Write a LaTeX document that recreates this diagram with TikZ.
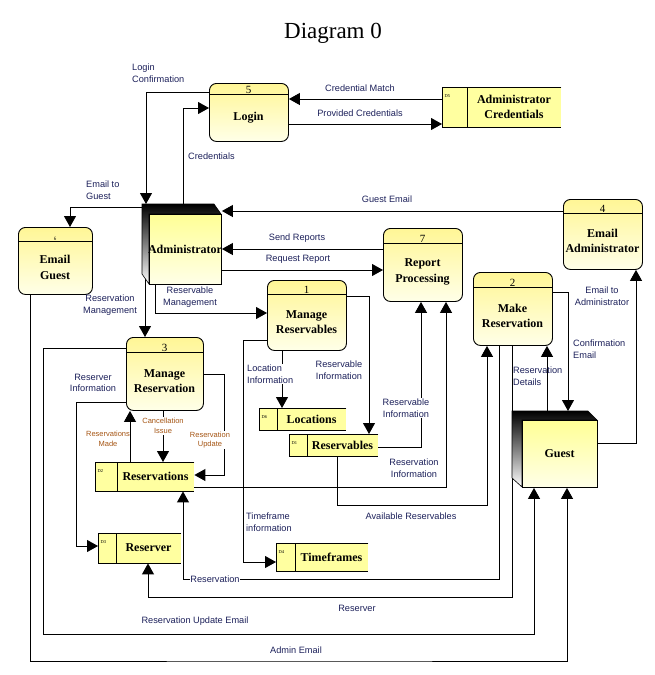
\documentclass[tikz,border=0pt]{standalone}
\usepackage{fontspec}
\setmainfont{Liberation Serif}
\setsansfont{Liberation Sans}
\usetikzlibrary{arrows.meta}

\definecolor{procTop}{RGB}{255,246,150}
\definecolor{procBot}{RGB}{255,255,232}
\definecolor{storeFill}{RGB}{255,255,160}
\definecolor{entTop}{RGB}{255,255,150}
\definecolor{entBot}{RGB}{255,255,232}
\definecolor{labcol}{RGB}{28,32,90}
\definecolor{slabcol}{RGB}{165,85,20}

\pgfdeclarelayer{wires}
\pgfsetlayers{wires,main}

\tikzset{
  edge/.style={draw, line width=0.9pt},
  flow/.style={edge, -{Triangle[length=11pt,width=12pt]}},
  proc/.style={draw, line width=0.9pt, rounded corners=7pt, top color=procTop, bottom color=procBot, inner sep=0pt},
  ent/.style={draw, line width=0.9pt, top color=entTop, bottom color=entBot, inner sep=0pt},
  store/.style={fill=storeFill, inner sep=0pt},
  ptitle/.style={font=\bfseries\fontsize{12}{15.5}\selectfont, align=center, inner sep=0pt},
  pnum/.style={font=\fontsize{11}{11}\selectfont, inner sep=0.5pt},
  sid/.style={font=\fontsize{4.5}{4.5}\selectfont, inner sep=0pt},
  lab/.style={font=\sffamily\fontsize{9.2}{11.5}\selectfont, text=labcol, align=center, inner sep=1pt},
  slab/.style={font=\sffamily\fontsize{7.5}{9.8}\selectfont, text=slabcol, align=center, inner sep=1pt},
  blank/.style={fill=white},
}

% process: name, x1, y1, x2, y2, header line y, number, title
\newcommand\procbox[8]{%
  \node[proc, anchor=north west, minimum width={(#4-#2)*1pt}, minimum height={(#5-#3)*1pt}] (#1) at (#2,#3) {};
  \draw[edge] (#1.west |- 0,#6) -- (#1.east |- 0,#6);
  \node[pnum, anchor=south] (#1-n) at ({(#2+#4)/2},#6+0.5) {#7};
  \node[ptitle] (#1-t) at ({(#2+#4)/2},{(#6+#5)/2}) {#8};
}

% data store: name, x1, y1, x2, y2, divider x, id, title
\newcommand\dstore[8]{%
  \node[store, anchor=north west, minimum width={(#4-#2)*1pt}, minimum height={(#5-#3)*1pt}] (#1) at (#2,#3) {};
  \draw[edge] (#1.north east) -- (#1.north west) -- (#1.south west) -- (#1.south east);
  \draw[edge] (#1.north -| #6,0) -- (#1.south -| #6,0);
  \node[sid, anchor=west] (#1-id) at (#2+2.5,#3+9) {#7};
  \node[ptitle] (#1-t) at ({(#6+#4)/2},{(#3+#5)/2}) {#8};
}

\begin{document}
\begin{tikzpicture}[x=1pt, y=-1pt]
\useasboundingbox (0,0) rectangle (654,675);

\node[font=\fontsize{23}{23}\selectfont] (title) at (333,33) {Diagram 0};

% processes
\procbox{login}{209}{83}{288}{141}{94}{5}{Login}
\procbox{emailg}{18}{227}{92}{294}{241}{\fontsize{5}{5}\selectfont 6}{Email\\Guest}
\procbox{mres}{267}{280}{346}{350}{294}{1}{Manage\\Reservables}
\procbox{rep}{383}{228}{462}{301}{243}{7}{Report\\Processing}
\procbox{emaila}{563}{199}{642}{269}{213}{4}{Email\\Administrator}
\procbox{make}{473}{272}{552}{345}{287}{2}{Make\\Reservation}
\procbox{mresv}{126}{337}{203}{410}{352}{3}{Manage\\Reservation}

% data stores
\dstore{acred}{442}{87}{561}{127}{467}{D5}{Administrator\\Credentials}
\dstore{loc}{259}{408}{346}{430}{277}{D6}{Locations}
\dstore{rsvb}{289}{434}{378}{456}{307}{D1}{Reservables}
\dstore{resv}{95}{462}{194}{491}{117}{D2}{Reservations}
\dstore{reserver}{98}{533}{181}{563}{116}{D3}{Reserver}
\dstore{tf}{276}{543}{368}{571}{295}{D4}{Timeframes}

% external entities
\shadedraw[top color=black, bottom color=white, line width=0.6pt]
  (142,204) -- (214,204) -- (221,214) -- (149,214) -- (149,284) -- (142,274) -- cycle;
\node[ent, anchor=north west, minimum width=72pt, minimum height=70pt] (admin) at (149,214) {};
\node[inner sep=0pt, anchor=north west, minimum width=72pt, minimum height=70pt] (adminbk) at (142,204) {};
\node[ptitle] (admin-t) at (185,249) {Administrator};

\shadedraw[top color=black, bottom color=white, line width=0.6pt]
  (512,411) -- (588,411) -- (597,420) -- (522,420) -- (522,487) -- (512,478) -- cycle;
\node[ent, anchor=north west, minimum width=75pt, minimum height=67pt] (guest) at (522,420) {};
\node[inner sep=0pt, anchor=north west, minimum width=76pt, minimum height=67pt] (guestbk) at (512,411) {};
\node[ptitle] (guest-t) at (559.5,453.5) {Guest};

% data flows
\begin{pgfonlayer}{wires}
\draw[flow] (login.west |- 0,92) -| (adminbk.north -| 146,0);
\draw[flow] (adminbk.north -| 183,0) |- (login.west |- 0,108);
\draw[flow] (acred.west |- 0,99) -- (login.east |- 0,99);
\draw[flow] (login.east |- 0,124) -- (acred.west |- 0,124);
\draw[flow] (emaila.west |- 0,211) -- (admin.east |- 0,211);
\draw[flow] (rep.west |- 0,249) -- (admin.east |- 0,249);
\draw[flow] (admin.east |- 0,270) -- (rep.west |- 0,270);
\draw[flow] (adminbk.west |- 0,207) -| (emailg.north -| 70,0);
\draw[flow] (admin.south -| 155,0) |- (mres.west |- 0,313);
\draw[flow] (adminbk.south -| 145,0) -- (mresv.north -| 145,0);
\draw[flow] (emailg.south -| 30,0) |- (300,661) -| (guest.south -| 567,0);
\draw[flow] (mresv.west |- 0,348) -| (43,634) -| (guest.south -| 534,0);
\draw[flow] (mresv.west |- 0,402) -| (76,546) -- (reserver.west |- 0,546);
\draw[flow] (resv.north -| 130,0) -- (mresv.south -| 130,0);
\draw[flow] (mresv.south -| 163,0) -- (resv.north -| 163,0);
\draw[flow] (mresv.east |- 0,374) -| (224,475) -- (resv.east |- 0,475);
\draw[flow] (make.south -| 499,0) |- (183,579) -- (resv.south -| 183,0);
\draw[flow] (make.south -| 512,0) |- (148,597) -- (reserver.south -| 148,0);
\draw[flow] (rsvb.south -| 337,0) |- (487,505) -- (make.south -| 487,0);
\draw[flow] (resv.east |- 0,487) -| (rep.south -| 446,0);
\draw[flow] (rsvb.east |- 0,447) -| (rep.south -| 421,0);
\draw[flow] (mres.east |- 0,296) -| (rsvb.north -| 369,0);
\draw[flow] (mres.south -| 282,0) -- (loc.north -| 282,0);
\draw[flow] (mres.west |- 0,340) -| (243,562) -- (tf.west |- 0,562);
\draw[flow] (make.east |- 0,292) -| (guestbk.north -| 568,0);
\draw[flow] (guest.east |- 0,443) -| (emaila.south -| 636,0);
\draw[flow] (guestbk.north -| 547,0) -- (make.south -| 547,0);
\end{pgfonlayer}

% flow labels
\node[lab, anchor=west, align=left] (l-lconf) at (131,73) {Login\\Confirmation};
\node[lab, anchor=west] (l-cred) at (187,156) {Credentials};
\node[lab] (l-cm) at (360,88) {Credential Match};
\node[lab] (l-pc) at (360,113) {Provided Credentials};
\node[lab] (l-ge) at (387,199) {Guest Email};
\node[lab] (l-sr) at (297,238) {Send Reports};
\node[lab] (l-rr) at (298,259) {Request Report};
\node[lab, anchor=west, align=left] (l-etg) at (85,190) {Email to\\Guest};
\node[lab] (l-rbm) at (190,297) {Reservable\\Management};
\node[lab] (l-rvm) at (110,305) {Reservation\\Management};
\node[lab] (l-ae) at (296,650) {Admin Email};
\node[lab] (l-rue) at (195,621) {Reservation Update Email};
\node[lab] (l-ri) at (93,383) {Reserver\\Information};
\node[slab] (l-rmade) at (108,439) {Reservations\\Made};
\node[slab, blank] (l-ci) at (163,426) {Cancellation\\Issue};
\node[slab, blank] (l-ru) at (210,440) {Reservation\\Update};
\node[lab, blank, inner sep=0.5pt] (l-res) at (215,579) {Reservation};
\node[lab] (l-rsv) at (357,608) {Reserver};
\node[lab] (l-ar) at (411,516) {Available Reservables};
\node[lab] (l-rinf) at (414,468) {Reservation\\Information};
\node[lab, blank] (l-rbi2) at (406,408) {Reservable\\Information};
\node[lab] (l-rbi1) at (339,370) {Reservable\\Information};
\node[lab, blank, anchor=west, align=left] (l-li) at (246,374) {Location\\Information};
\node[lab, anchor=west, align=left] (l-tf) at (245,522) {Timeframe\\information};
\node[lab, anchor=west, align=left] (l-ce) at (572,349) {Confirmation\\Email};
\node[lab] (l-eta) at (602,296) {Email to\\Administrator};
\node[lab, anchor=west, align=left] (l-rd) at (512,376) {Reservation\\Details};
\end{tikzpicture}
\end{document}
